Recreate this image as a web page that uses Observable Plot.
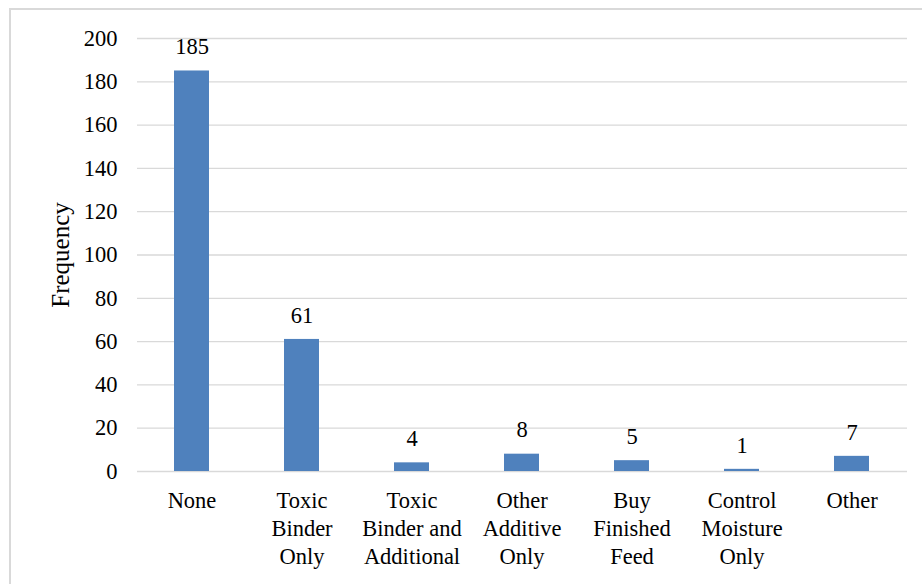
<!DOCTYPE html>
<html>
<head>
<meta charset="utf-8">
<script src="https://cdn.jsdelivr.net/npm/d3@7"></script>
<script src="https://cdn.jsdelivr.net/npm/@observablehq/plot@0.6"></script>
<style>
  html, body { margin: 0; padding: 0; background: #fff; }
  #wrap { position: relative; width: 922px; height: 584px; overflow: hidden; }
  #box { position: absolute; left: 9px; top: 8px; width: 1000px; height: 1000px;
         border-left: 2px solid #d9d9d9; border-top: 2px solid #d9d9d9; }
  #chart { position: absolute; left: 0; top: 0; }
</style>
</head>
<body>
<div id="wrap"><div id="box"></div><div id="chart"></div></div>
<script>
const categories = ["None", "Toxic Binder Only", "Toxic Binder and Additional", "Other Additive Only", "Buy Finished Feed", "Control Moisture Only", "Other"];
const categoryLabels = ["None", "Toxic\nBinder\nOnly", "Toxic\nBinder and\nAdditional", "Other\nAdditive\nOnly", "Buy\nFinished\nFeed", "Control\nMoisture\nOnly", "Other"];
const frequencies = [185, 61, 4, 8, 5, 1, 7];
const yTicks = [0, 20, 40, 60, 80, 100, 120, 140, 160, 180, 200];
const FONT = "Liberation Serif";

const data = categories.map((c, i) => ({category: c, value: frequencies[i]}));
const labelOf = new Map(categories.map((c, i) => [c, categoryLabels[i]]));

const chart = Plot.plot({
  width: 922,
  height: 584,
  marginLeft: 137,
  marginRight: 15,
  marginTop: 38,
  marginBottom: 113,
  style: {color: "#000", background: "transparent", fontFamily: FONT},
  x: {domain: categories, paddingInner: 0.68, paddingOuter: 0.34, label: null},
  y: {domain: [0, 200], ticks: yTicks, label: null},
  marks: [
    Plot.gridY(yTicks, {stroke: "#d9d9d9", strokeOpacity: 1, strokeWidth: 1.3}),
    Plot.barY(data, {x: "category", y: "value", fill: "#4f81bd"}),
    Plot.text(data, {x: "category", y: "value", text: d => String(d.value), dy: -24, fontSize: 22.5, fontFamily: FONT, fill: "#000"}),
    Plot.axisY({ticks: yTicks, tickSize: 0, tickPadding: 20, fontSize: 22.5, fontFamily: FONT, label: null}),
    Plot.axisX({tickSize: 0, tickPadding: 17, fontSize: 22.5, fontFamily: FONT, lineHeight: 1.244, tickFormat: d => labelOf.get(d), label: null}),
    Plot.text(["Frequency"], {frameAnchor: "left", textAnchor: "middle", dx: -77, rotate: -90, fontSize: 25, fontFamily: FONT, fill: "#000"})
  ]
});
document.getElementById("chart").appendChild(chart);
</script>
</body>
</html>
